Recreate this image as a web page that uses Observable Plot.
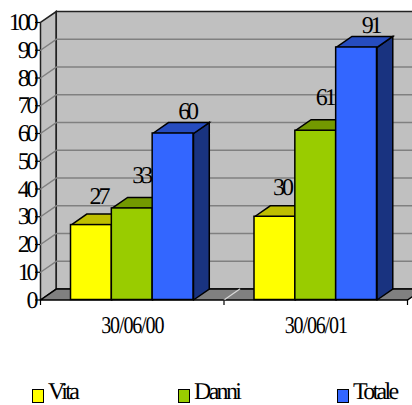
<!DOCTYPE html>
<html>
<head>
<meta charset="utf-8">
<script src="https://cdn.jsdelivr.net/npm/d3@7"></script>
<script src="https://cdn.jsdelivr.net/npm/@observablehq/plot@0.6"></script>
<style>
  html, body { margin: 0; padding: 0; background: #fff; overflow: hidden; }
  #chart svg { display: block; overflow: hidden; }
  #chart svg text { letter-spacing: -3.1px; text-rendering: geometricPrecision; }
  #chart svg text.date { letter-spacing: -1.4px; }
  #legend { position: relative; height: 21px; font: 24px "Liberation Serif", serif; letter-spacing: -2.7px; color: #000; text-rendering: geometricPrecision; }
  #legend span { position: absolute; top: -2.5px; line-height: 20px; white-space: nowrap; }
  #legend i { position: absolute; top: 5px; width: 10px; height: 12px; border: 1.5px solid #000; }
</style>
</head>
<body>
<div id="chart"></div>
<div id="legend"></div>
<script>
// Quarterly-close figures per line of business
const dates = ["30/06/00", "30/06/01"];
const seriesNames = ["Vita", "Danni", "Totale"];
const vita = [27, 30];
const danni = [33, 61];
const totale = [60, 91];
const yTicks = [0, 10, 20, 30, 40, 50, 60, 70, 80, 90, 100];

const values = [vita, danni, totale];
const frontColors = ["#FFFF00", "#99CC00", "#3366FF"];
const topColors = ["#BFBF00", "#739900", "#264CBF"];
const sideColors = ["#808000", "#4D6600", "#193380"];

// Oblique projection: the depth axis, measured in scale units
const depthX = 0.086;
const depthY = 3.96;
const barWidth = 0.2225;
const xMax = dates.length;
const yMax = 100;
const font = "Liberation Serif";

// Closed polygon in data coordinates
const poly = (pts, fill, stroke = "#000", strokeWidth = 1.5) =>
  Plot.line([...pts, pts[0]], {x: "0", y: "1", fill, stroke, strokeWidth,
    strokeLinejoin: "miter", strokeMiterlimit: 4});

const shell = [
  // left wall, back wall, floor
  poly([[0, 0], [depthX, depthY], [depthX, yMax + depthY], [0, yMax]], "#C0C0C0", "#222"),
  poly([[depthX, depthY], [xMax + depthX, depthY], [xMax + depthX, yMax + depthY], [depthX, yMax + depthY]], "#C0C0C0", "#222"),
  // gridlines run across the left wall and along the back wall
  ...yTicks.slice(1, -1).map(v => Plot.line(
    [[0, v], [depthX, v + depthY], [xMax + depthX, v + depthY]],
    {x: "0", y: "1", stroke: "#808080", strokeWidth: 1.5})),
  poly([[0, 0], [depthX, depthY], [xMax + depthX, depthY], [xMax, 0]], "#808080", "#000"),
  // divider on the floor between the two dates
  Plot.line([[1, 0], [1 + depthX, depthY]], {x: "0", y: "1", stroke: "#D8D8D8", strokeWidth: 1.2})
];

const bars = dates.flatMap((d, i) => values.flatMap((vals, s) => {
  const x1 = i + 0.5 + (s - 1.5) * barWidth;
  const x2 = x1 + barWidth;
  const v = vals[i];
  return [
    poly([[x2, 0], [x2 + depthX, depthY], [x2 + depthX, v + depthY], [x2, v]], sideColors[s]),
    poly([[x1, v], [x1 + depthX, v + depthY], [x2 + depthX, v + depthY], [x2, v]], topColors[s]),
    Plot.rect([{x1, x2, v}], {x1: "x1", x2: "x2", y1: 0, y2: "v", fill: frontColors[s], stroke: "#000", strokeWidth: 1.5})
  ];
}));

// Value labels float above each bar's top face
const labelOffsets = [{dx: 7, dy: -18}, {dx: 9, dy: -22}, {dx: 14, dy: -11}];
const labels = values.map((vals, s) => Plot.text(vals, {
  x: (v, i) => i + 0.5 + (s - 1) * barWidth,
  y: v => v + depthY,
  text: v => String(v),
  dx: labelOffsets[s].dx,
  dy: labelOffsets[s].dy,
  fontSize: 24,
  fill: "#000"
}));

const chart = Plot.plot({
  width: 412,
  height: 384,
  marginLeft: 40,
  marginRight: 5,
  marginTop: 22,
  marginBottom: 84.5,
  style: {fontFamily: font, background: "#fff", overflow: "hidden"},
  x: {type: "linear", domain: [0, xMax], range: [40, 407]},
  y: {type: "linear", domain: [0, yMax], range: [299.5, 22]},
  marks: [
    ...shell,
    ...bars,
    ...labels,
    Plot.axisY({ticks: yTicks, tickSize: 5, tickPadding: 0, fontSize: 24, label: null,
      tickFormat: d => String(d), stroke: "#000", strokeWidth: 1.2, fill: "#000"}),
    Plot.axisX({ticks: d3.range(xMax + 1), tickSize: 5.5, tickFormat: () => "", label: null, stroke: "#000", strokeWidth: 1.2}),
    Plot.axisX({ticks: dates.map((d, i) => i + 0.5), tickSize: 0, tickPadding: 16, fontSize: 24, label: null,
      tickFormat: (d, i) => dates[i], fill: "#000"})
  ]
});
document.getElementById("chart").append(chart);

// Condense the date labels so the slashes stay legible
d3.select(chart).selectAll("text")
  .filter(function () { return dates.includes(this.textContent); })
  .classed("date", true)
  .attr("textLength", 62)
  .attr("lengthAdjust", "spacingAndGlyphs");

// Legend row under the plot
const legendLefts = [32, 178, 337];
const legend = d3.select("#legend");
seriesNames.forEach((name, s) => {
  legend.append("i").style("left", legendLefts[s] + "px").style("background", frontColors[s]);
  legend.append("span").style("left", (legendLefts[s] + 16) + "px").text(name);
});
</script>
</body>
</html>
